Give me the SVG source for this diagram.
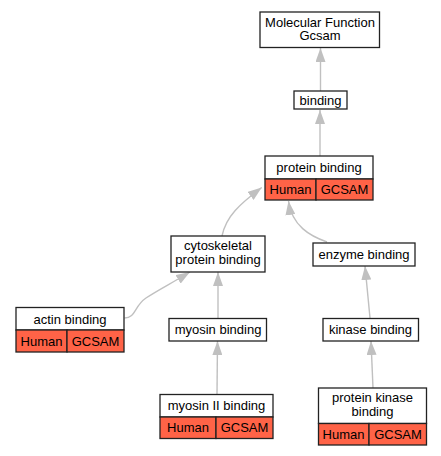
<svg xmlns="http://www.w3.org/2000/svg" width="441" height="456" viewBox="0 0 441 456">
<style>
.box{fill:#fff;stroke:#222;stroke-width:1.3}
.red{fill:#ff6347;stroke:#222;stroke-width:1.3}
text{font-family:"Liberation Sans",Arial,sans-serif;font-size:13px;fill:#000;text-anchor:middle}
.edge{fill:none;stroke:#c0c0c0;stroke-width:1.4}
</style>
<defs>
<marker id="arr" viewBox="0 0 14 10" refX="14" refY="5" markerWidth="14" markerHeight="10" markerUnits="userSpaceOnUse" orient="auto">
<path d="M0,0 L14,5 L0,10 z" fill="#c0c0c0"/>
</marker>
</defs>
<rect width="441" height="456" fill="#fff"/>
<g id="edges">
<path class="edge" marker-end="url(#arr)" d="M320.5,91 L320.5,48"/>
<path class="edge" marker-end="url(#arr)" d="M320,156 L320,110"/>
<path class="edge" marker-end="url(#arr)" d="M222,236 C226,216 240,204 261.7,187.5"/>
<path class="edge" marker-end="url(#arr)" d="M327,242 C310,236 292,226 288.5,201"/>
<path class="edge" marker-end="url(#arr)" d="M124.5,318 C136,318 134,306 146,298 C158,290 172,283 190,272"/>
<path class="edge" marker-end="url(#arr)" d="M218,318 L218,272"/>
<path class="edge" marker-end="url(#arr)" d="M217,394 L217.5,341"/>
<path class="edge" marker-end="url(#arr)" d="M370,318 L365,266"/>
<path class="edge" marker-end="url(#arr)" d="M373,388 L371,341"/>
</g>
<g id="mf">
<rect class="box" x="260" y="12" width="119.5" height="35.5"/>
<text x="320" y="26.5">Molecular Function</text>
<text x="320" y="40">Gcsam</text>
</g>
<g id="binding">
<rect class="box" x="294" y="91" width="53" height="18"/>
<text x="320.5" y="104.5">binding</text>
</g>
<g id="protein_binding">
<rect class="box" x="265" y="156" width="108" height="23"/>
<rect class="red" x="265" y="179" width="51" height="21"/>
<rect class="red" x="316" y="179" width="57" height="21"/>
<text x="319" y="172">protein binding</text>
<text x="290.5" y="194">Human</text>
<text x="344.5" y="194">GCSAM</text>
</g>
<g id="cytoskeletal">
<rect class="box" x="171" y="236" width="94" height="36"/>
<text x="218" y="250">cytoskeletal</text>
<text x="218" y="264">protein binding</text>
</g>
<g id="enzyme">
<rect class="box" x="313" y="243" width="102" height="23"/>
<text x="364" y="259">enzyme binding</text>
</g>
<g id="actin">
<rect class="box" x="16" y="307.5" width="108" height="22.5"/>
<rect class="red" x="16" y="330" width="51" height="22"/>
<rect class="red" x="67" y="330" width="57" height="22"/>
<text x="70" y="323.5">actin binding</text>
<text x="41.5" y="345.5">Human</text>
<text x="95.5" y="345.5">GCSAM</text>
</g>
<g id="myosin">
<rect class="box" x="169" y="318.5" width="97.5" height="22.5"/>
<text x="218" y="334">myosin binding</text>
</g>
<g id="myosin2">
<rect class="box" x="160" y="394.5" width="113" height="22.5"/>
<rect class="red" x="160" y="417" width="56" height="21.5"/>
<rect class="red" x="216" y="417" width="57" height="21.5"/>
<text x="216.5" y="410">myosin II binding</text>
<text x="188" y="432">Human</text>
<text x="244.5" y="432">GCSAM</text>
</g>
<g id="kinase">
<rect class="box" x="323" y="318.5" width="95.5" height="22.5"/>
<text x="370.5" y="334">kinase binding</text>
</g>
<g id="pkinase">
<rect class="box" x="318.5" y="388" width="108" height="35.5"/>
<rect class="red" x="318.5" y="423.5" width="50.5" height="21.5"/>
<rect class="red" x="369" y="423.5" width="57.5" height="21.5"/>
<text x="372.5" y="402">protein kinase</text>
<text x="372.5" y="416">binding</text>
<text x="343.5" y="438.5">Human</text>
<text x="398" y="438.5">GCSAM</text>
</g>
</svg>
